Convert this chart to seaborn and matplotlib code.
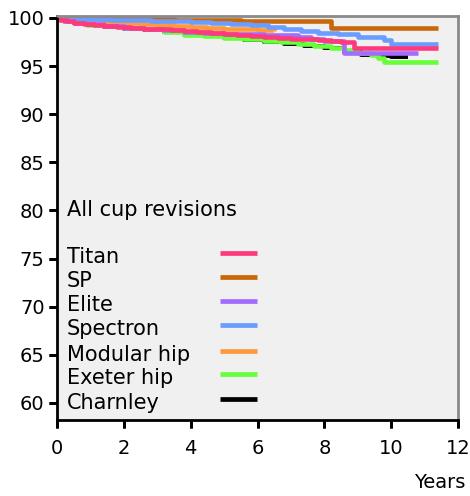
import numpy as np
import pandas as pd
import matplotlib
matplotlib.use("Agg")
import matplotlib.pyplot as plt
import matplotlib.transforms as mtransforms
from matplotlib.markers import TICKDOWN, TICKLEFT
import seaborn as sns

# ---- data ----
names = ["Titan", "SP", "Elite", "Spectron", "Modular hip", "Exeter hip", "Charnley"]
colors = ["#ff3a7c", "#c8680a", "#a36bff", "#6b9cff", "#ff9a3c", "#66ff3a", "#000000"]

titan_t = [0, 0.1, 0.3, 0.5, 0.8, 1.1, 1.4, 1.8, 2.2, 2.6, 3.0, 3.4, 3.8, 4.2, 4.6, 5.0, 5.4, 5.8,
           6.2, 6.6, 7.0, 7.4, 7.8, 8.2, 8.5, 8.9, 11.4]
titan_s = [100, 99.8, 99.65, 99.5, 99.4, 99.3, 99.2, 99.1, 99.0, 98.9, 98.8, 98.7, 98.6, 98.5,
           98.4, 98.3, 98.2, 98.1, 98.0, 97.9, 97.85, 97.8, 97.7, 97.6, 97.45, 96.9, 96.9]

sp_t = [0, 0.5, 1.5, 2.5, 3.5, 4.5, 5.5, 6.5, 8.2, 11.4]
sp_s = [100, 99.95, 99.9, 99.85, 99.8, 99.75, 99.7, 99.65, 99.0, 99.0]

elite_t = [0, 0.2, 0.5, 0.9, 1.4, 2.0, 2.6, 3.2, 3.8, 4.4, 5.0, 5.6, 6.2, 6.8, 7.2, 7.6, 8.0, 8.6, 10.8]
elite_s = [100, 99.7, 99.5, 99.35, 99.2, 99.0, 98.85, 98.7, 98.55, 98.45, 98.35, 98.3, 98.25,
           98.2, 98.0, 97.8, 97.6, 96.4, 96.4]

spectron_t = [0, 0.4, 1.0, 1.6, 2.2, 2.8, 3.4, 4.0, 4.6, 5.2, 5.8, 6.3, 6.8, 7.3, 7.8, 8.4, 9.0,
              9.8, 10.0, 11.4]
spectron_s = [100, 99.9, 99.85, 99.8, 99.75, 99.7, 99.65, 99.6, 99.5, 99.4, 99.3, 99.05, 98.85,
              98.6, 98.4, 98.3, 98.0, 97.7, 97.3, 97.3]

modular_t = [0, 0.5, 1.0, 1.5, 2.0, 2.5, 3.0, 3.5, 4.0, 4.5, 5.0, 5.5, 6.0, 6.5]
modular_s = [100, 99.85, 99.7, 99.55, 99.45, 99.35, 99.25, 99.15, 99.05, 99.0, 98.9, 98.8, 98.7, 98.6]

exeter_t = [0, 0.2, 0.5, 0.9, 1.4, 2.0, 2.6, 3.2, 3.8, 4.4, 5.0, 5.6, 6.2, 6.7, 7.2, 7.7, 8.2,
            8.6, 9.0, 9.4, 9.6, 9.8, 11.4]
exeter_s = [100, 99.7, 99.5, 99.3, 99.15, 99.0, 98.8, 98.55, 98.25, 98.1, 97.95, 97.8, 97.65,
            97.5, 97.3, 97.1, 96.9, 96.65, 96.4, 96.15, 95.8, 95.4, 95.4]

charnley_t = [0, 0.2, 0.5, 0.9, 1.4, 2.0, 2.6, 3.2, 3.8, 4.4, 5.0, 5.6, 6.2, 6.8, 7.4, 8.0, 8.6,
              9.1, 9.6, 10.0, 10.5]
charnley_s = [100, 99.7, 99.5, 99.3, 99.1, 98.9, 98.7, 98.5, 98.3, 98.1, 97.9, 97.7, 97.5, 97.3,
              97.1, 96.85, 96.45, 96.2, 96.0, 95.9, 95.9]

series = {
    "Titan": (titan_t, titan_s),
    "SP": (sp_t, sp_s),
    "Elite": (elite_t, elite_s),
    "Spectron": (spectron_t, spectron_s),
    "Modular hip": (modular_t, modular_s),
    "Exeter hip": (exeter_t, exeter_s),
    "Charnley": (charnley_t, charnley_s),
}

x_ticks = [0, 2, 4, 6, 8, 10, 12]
y_ticks = [60, 65, 70, 75, 80, 85, 90, 95, 100]

sns.set_style("white")
plt.rcParams["font.family"] = ["DejaVu Sans"]
plt.rcParams["text.color"] = "black"

fig = plt.figure(figsize=(4.70, 4.96), dpi=100)
ax = fig.add_axes([57 / 470, 76 / 496, 401 / 470, 404 / 496])
ax.set_facecolor("#f0f0f0")

draw_order = ["Charnley", "Exeter hip", "Modular hip", "Elite", "SP", "Spectron", "Titan"]
pal = dict(zip(names, colors))
for nm in draw_order:
    t, s = series[nm]
    df = pd.DataFrame({"t": t, "s": s})
    sns.lineplot(data=df, x="t", y="s", ax=ax, color=pal[nm],
                 drawstyle="steps-post", estimator=None, sort=False,
                 linewidth=3.3 if nm != "Charnley" else 2.8,
                 solid_capstyle="butt")

ax.set_xlim(0, 12)
ax.set_ylim(58.23, 100.2)
ax.set_xticks(x_ticks)
ax.set_yticks(y_ticks)
ax.set_xlabel("")
ax.set_ylabel("")
ax.tick_params(axis="x", bottom=True, length=6, width=2, color="black",
               labelcolor="black", labelsize=14, pad=8)
ax.tick_params(axis="y", left=True, length=6, width=2, color="black",
               labelcolor="black", labelsize=14, pad=3)

# explicit outward tick marks at the tick positions (guarantees visibility)
bx = mtransforms.blended_transform_factory(ax.transData, ax.transAxes)
by = mtransforms.blended_transform_factory(ax.transAxes, ax.transData)
ax.plot(x_ticks, [0] * len(x_ticks), transform=bx, linestyle="none", marker=TICKDOWN,
        markersize=6, markeredgewidth=2, color="black", clip_on=False, zorder=6)
ax.plot([0] * len(y_ticks), y_ticks, transform=by, linestyle="none", marker=TICKLEFT,
        markersize=6, markeredgewidth=2, color="black", clip_on=False, zorder=6)

for side in ["left", "bottom"]:
    ax.spines[side].set_color("black")
    ax.spines[side].set_linewidth(2)
for side in ["top", "right"]:
    ax.spines[side].set_color("#8a8a8a")
    ax.spines[side].set_linewidth(2)

fig.text(465 / 470, 1 - 483 / 496, "Years", ha="right", va="center", fontsize=14,
         color="black")

# legend drawn manually (left-aligned labels, swatches in a column)
def ay(py):
    return (420 - py) / 404

ax.text(10 / 401, ay(210), "All cup revisions", transform=ax.transAxes,
        ha="left", va="center", fontsize=15, color="black")
line_ys = [252.7, 277.3, 300.7, 325.0, 350.7, 374.0, 399.0]
for nm, col, ly in zip(names, colors, line_ys):
    ax.text(10 / 401, ay(ly + 10), nm, transform=ax.transAxes,
            ha="left", va="baseline", fontsize=15, color="black")
    ax.plot([(220 - 57) / 401, (257 - 57) / 401], [ay(ly), ay(ly)],
            transform=ax.transAxes, color=col, linewidth=3.4,
            solid_capstyle="butt")

fig.savefig("out.png", dpi=100)
